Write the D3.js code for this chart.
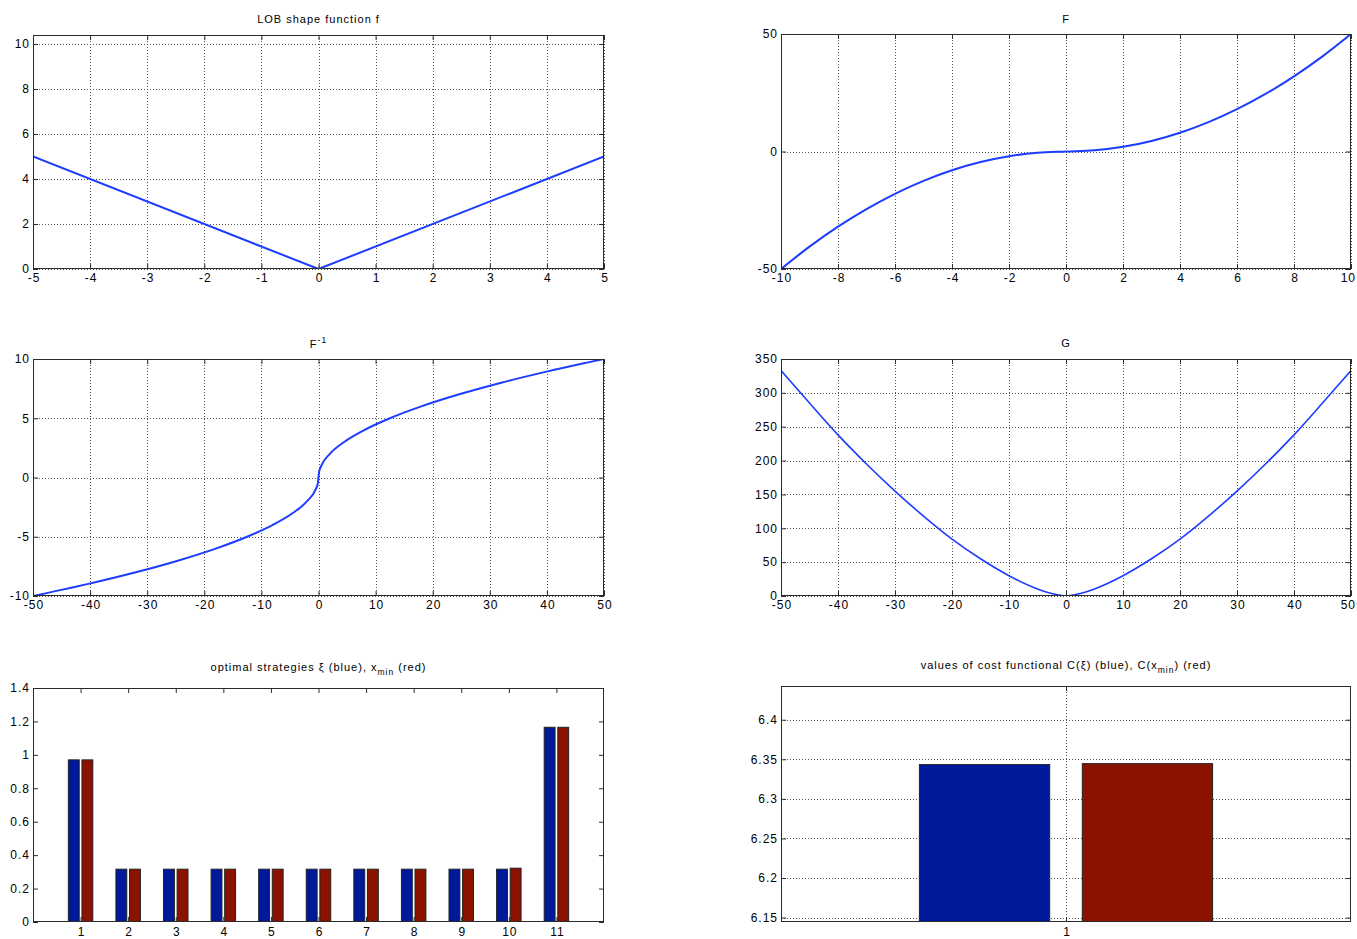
<!DOCTYPE html>
<html>
<head>
<meta charset="utf-8">
<script src="https://cdn.jsdelivr.net/npm/d3@7"></script>
<style>
  body { margin: 0; background: #fff; }
  svg text { font-family: "Liberation Sans", Arial, Helvetica, sans-serif; fill: #000; }
</style>
</head>
<body>
<svg id="fig" width="1357" height="939"></svg>
<script>
// ---- LOB shape function f ----
const fX = [-5, 0, 5];
const fY = [5, 0, 5];
const fXTicks = [-5, -4, -3, -2, -1, 0, 1, 2, 3, 4, 5];
const fYTicks = [0, 2, 4, 6, 8, 10];

// ---- F ----
const bigFX = [-10, -9, -8, -7, -6, -5, -4, -3, -2, -1, 0, 1, 2, 3, 4, 5, 6, 7, 8, 9, 10];
const bigFY = [-50, -40.5, -32, -24.5, -18, -12.5, -8, -4.5, -2, -0.5, 0, 0.5, 2, 4.5, 8, 12.5, 18, 24.5, 32, 40.5, 50];
const bigFXTicks = [-10, -8, -6, -4, -2, 0, 2, 4, 6, 8, 10];
const bigFYTicks = [-50, 0, 50];

// ---- F^-1 ----
const invX = [-50, -40.5, -32, -24.5, -18, -12.5, -8, -4.5, -2, -0.5, -0.1, 0, 0.1, 0.5, 2, 4.5, 8, 12.5, 18, 24.5, 32, 40.5, 50];
const invY = [-10, -9, -8, -7, -6, -5, -4, -3, -2, -1, -0.45, 0, 0.45, 1, 2, 3, 4, 5, 6, 7, 8, 9, 10];
const invXTicks = [-50, -40, -30, -20, -10, 0, 10, 20, 30, 40, 50];
const invYTicks = [-10, -5, 0, 5, 10];

// ---- G ----
const gX = [-50, -45, -40, -35, -30, -25, -20, -15, -10, -5, -2.5, 0, 2.5, 5, 10, 15, 20, 25, 30, 35, 40, 45, 50];
const gY = [333, 285, 238, 195, 155, 118, 84, 55, 30, 10.5, 3.7, 0, 3.7, 10.5, 30, 55, 84, 118, 155, 195, 238, 285, 333];
const gXTicks = [-50, -40, -30, -20, -10, 0, 10, 20, 30, 40, 50];
const gYTicks = [0, 50, 100, 150, 200, 250, 300, 350];

// ---- optimal strategies ----
const stepLabels = [1, 2, 3, 4, 5, 6, 7, 8, 9, 10, 11];
const xiValues   = [0.97, 0.316, 0.316, 0.316, 0.316, 0.316, 0.316, 0.316, 0.316, 0.316, 1.165];
const xMinValues = [0.97, 0.316, 0.316, 0.316, 0.316, 0.316, 0.316, 0.316, 0.316, 0.322, 1.165];
const stratYTicks = [0, 0.2, 0.4, 0.6, 0.8, 1, 1.2, 1.4];

// ---- cost functional ----
const costLabels = [1];
const costValues = [6.3433, 6.3445];   // C(xi), C(x_min)
const costYTicks = [6.15, 6.2, 6.25, 6.3, 6.35, 6.4];

const LINE_BLUE = "#1c3cff";
const BAR_BLUE = "#00199b";
const BAR_RED = "#8c1200";
const AXIS_COLOR = "#2b2b2b";
const GRID_COLOR = "#555";
const TICK_LS = 1;     // letter spacing of tick labels
const TICK_FONT = 12;
const TITLE_FONT = 11;
const FIG_W = 1357;

const svg = d3.select("#fig");
let clipId = 0;

function panel(o) {
  const g = svg.append("g").attr("transform", `translate(${o.left},${o.top})`);
  const w = o.right - o.left, h = o.bottom - o.top;
  const x = d3.scaleLinear().domain(o.xDomain).range([0, w]);
  const y = d3.scaleLinear().domain(o.yDomain).range([h, 0]);

  const id = "clip" + (clipId++);
  g.append("clipPath").attr("id", id).append("rect").attr("width", w).attr("height", h);

  // dotted grid
  const grid = g.append("g").attr("stroke", GRID_COLOR).attr("stroke-width", 1)
    .attr("stroke-dasharray", "1,2");
  if (o.xGrid) grid.selectAll(".gx").data(o.xGrid).join("line")
    .attr("x1", d => Math.round(x(d)) + 0.5).attr("x2", d => Math.round(x(d)) + 0.5)
    .attr("y1", 0).attr("y2", h);
  if (o.yGrid) grid.selectAll(".gy").data(o.yGrid).join("line")
    .attr("y1", d => Math.round(y(d)) + 0.5).attr("y2", d => Math.round(y(d)) + 0.5)
    .attr("x1", 0).attr("x2", w);

  const plot = g.append("g").attr("clip-path", `url(#${id})`);

  return { g, plot, x, y, w, h, o };
}

function finishPanel(p) {
  const { g, x, y, w, h, o } = p;
  // frame
  g.append("rect").attr("x", 0.5).attr("y", 0.5).attr("width", w - 1).attr("height", h - 1)
    .attr("fill", "none").attr("stroke", AXIS_COLOR).attr("stroke-width", 1);

  const styleAxis = sel => {
    sel.select(".domain").remove();
    sel.selectAll(".tick line").attr("stroke", AXIS_COLOR);
    sel.selectAll("text").attr("font-size", TICK_FONT).attr("letter-spacing", TICK_LS + "px")
      .attr("fill", "#000").attr("font-family", null);
  };

  const xFmt = o.xFmt || (d => String(d));
  const yFmt = o.yFmt || (d => String(d));

  const bottomAxis = g.append("g").attr("transform", `translate(0,${h})`)
    .call(d3.axisBottom(x).tickValues(o.xTicks).tickFormat(xFmt).tickSize(-5).tickPadding(o.xPad || 4))
    .call(styleAxis)
    .call(s => s.selectAll("text").attr("dx", TICK_LS / 2));
  // keep the last label inside the figure edge
  bottomAxis.selectAll("text").each(function () {
    const b = this.getBoundingClientRect();
    const over = b.right - (FIG_W - 1);
    if (over > 0) d3.select(this).attr("dx", TICK_LS / 2 - over);
  });
  g.append("g")
    .call(d3.axisTop(x).tickValues(o.xTicks).tickFormat("").tickSize(-5))
    .call(styleAxis);
  g.append("g")
    .call(d3.axisLeft(y).tickValues(o.yTicks).tickFormat(yFmt).tickSize(-5).tickPadding(4 - TICK_LS))
    .call(styleAxis);
  g.append("g").attr("transform", `translate(${w},0)`)
    .call(d3.axisRight(y).tickValues(o.yTicks).tickFormat("").tickSize(-5))
    .call(styleAxis);

  // title
  const t = g.append("text").attr("x", w / 2).attr("y", o.titleY)
    .attr("text-anchor", "middle").attr("font-size", TITLE_FONT).attr("letter-spacing", "1px");
  o.title(t);
}

function drawLine(p, xs, ys, width) {
  const pts = xs.map((d, i) => [d, ys[i]]);
  p.plot.append("path").datum(pts)
    .attr("fill", "none").attr("stroke", LINE_BLUE).attr("stroke-width", width)
    .attr("stroke-linejoin", "round")
    .attr("d", d3.line().x(d => p.x(d[0])).y(d => p.y(d[1])).curve(d3.curveMonotoneX));
}

// ---------- top-left: f ----------
{
  const p = panel({ left: 33, right: 604, top: 35, bottom: 269,
    xDomain: [-5, 5], yDomain: [0, 10.4], xTicks: fXTicks, yTicks: fYTicks,
    xGrid: fXTicks, yGrid: fYTicks, titleY: -12,
    title: t => t.text("LOB shape function f") });
  const pts = fX.map((d, i) => [d, fY[i]]);
  p.plot.append("path").datum(pts).attr("fill", "none").attr("stroke", LINE_BLUE)
    .attr("stroke-width", 2).attr("d", d3.line().x(d => p.x(d[0])).y(d => p.y(d[1])));
  finishPanel(p);
}

// ---------- top-right: F ----------
{
  const p = panel({ left: 781, right: 1351, top: 34, bottom: 269,
    xDomain: [-10, 10], yDomain: [-50, 50], xTicks: bigFXTicks, yTicks: bigFYTicks,
    xGrid: bigFXTicks, yGrid: bigFYTicks, titleY: -11,
    title: t => t.text("F") });
  drawLine(p, bigFX, bigFY, 2);
  finishPanel(p);
}

// ---------- middle-left: F^-1 ----------
{
  const p = panel({ left: 33, right: 604, top: 359, bottom: 596,
    xDomain: [-50, 50], yDomain: [-10, 10], xTicks: invXTicks, yTicks: invYTicks,
    xGrid: invXTicks, yGrid: invYTicks, titleY: -11,
    title: t => { t.append("tspan").text("F");
                  t.append("tspan").attr("font-size", 8.5).attr("dy", -5).text("-1"); } });
  drawLine(p, invX, invY, 2);
  finishPanel(p);
}

// ---------- middle-right: G ----------
{
  const p = panel({ left: 781, right: 1351, top: 359, bottom: 596,
    xDomain: [-50, 50], yDomain: [0, 350], xTicks: gXTicks, yTicks: gYTicks,
    xGrid: gXTicks, yGrid: gYTicks, titleY: -12,
    title: t => t.text("G") });
  drawLine(p, gX, gY, 1.6);
  finishPanel(p);
}

// grouped bar geometry (units of the category axis)
const GROUP_OFFSET = 0.1429;
const BAR_WIDTH = 0.2286;

// ---------- bottom-left: optimal strategies ----------
{
  const p = panel({ left: 33, right: 604, top: 688, bottom: 922,
    xDomain: [0, 12], yDomain: [0, 1.4], xTicks: stepLabels, yTicks: stratYTicks,
    titleY: -17, xPad: 5,
    title: t => { t.append("tspan").text("optimal strategies \u03BE (blue), x");
                  t.append("tspan").attr("font-size", 8.5).attr("dy", 4).text("min");
                  t.append("tspan").attr("dy", -4).text(" (red)"); } });
  const series = [
    { vals: xiValues, off: -GROUP_OFFSET, color: BAR_BLUE },
    { vals: xMinValues, off: GROUP_OFFSET, color: BAR_RED }
  ];
  series.forEach(s => {
    p.plot.append("g").selectAll("rect").data(stepLabels.map((c, i) => [c, s.vals[i]])).join("rect")
      .attr("x", d => p.x(d[0] + s.off - BAR_WIDTH / 2))
      .attr("width", d => p.x(d[0] + s.off + BAR_WIDTH / 2) - p.x(d[0] + s.off - BAR_WIDTH / 2))
      .attr("y", d => p.y(d[1]))
      .attr("height", d => p.y(0) - p.y(d[1]))
      .attr("fill", s.color).attr("stroke", "#222").attr("stroke-width", 1);
  });
  finishPanel(p);
}

// ---------- bottom-right: cost functional ----------
{
  const p = panel({ left: 781, right: 1351, top: 686, bottom: 922,
    xDomain: [0.5, 1.5], yDomain: [6.1444, 6.4426], xTicks: costLabels, yTicks: costYTicks,
    xGrid: costLabels, yGrid: costYTicks, titleY: -17, xPad: 5,
    title: t => { t.append("tspan").text("values of cost functional C(\u03BE) (blue), C(x");
                  t.append("tspan").attr("font-size", 8.5).attr("dy", 4).text("min");
                  t.append("tspan").attr("dy", -4).text(") (red)"); } });
  const bars = [
    { c: costLabels[0], v: costValues[0], off: -GROUP_OFFSET, color: BAR_BLUE },
    { c: costLabels[0], v: costValues[1], off: GROUP_OFFSET, color: BAR_RED }
  ];
  p.plot.append("g").selectAll("rect").data(bars).join("rect")
    .attr("x", d => p.x(d.c + d.off - BAR_WIDTH / 2))
    .attr("width", d => p.x(d.c + d.off + BAR_WIDTH / 2) - p.x(d.c + d.off - BAR_WIDTH / 2))
    .attr("y", d => p.y(d.v))
    .attr("height", d => p.h + 5 - p.y(d.v))
    .attr("fill", d => d.color).attr("stroke", "#222").attr("stroke-width", 1);
  finishPanel(p);
}
</script>
</body>
</html>
